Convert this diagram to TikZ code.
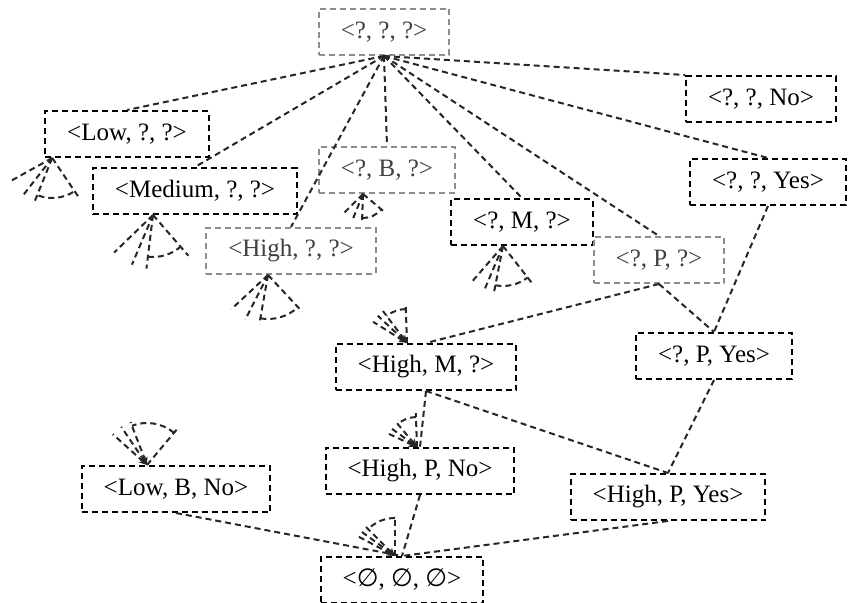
\documentclass[tikz,border=0pt]{standalone}
\usepackage{fontspec}
\setmainfont{Liberation Serif}
\newfontfamily\setsymfont{DejaVu Sans}
\usetikzlibrary{arrows.meta}
\newcommand{\nil}{{\setsymfont ∅}}

\begin{document}
\begin{tikzpicture}[x=0.5pt,y=-0.5pt,font=\fontsize{12.5}{15}\selectfont,
 state/.style={draw=black,dash pattern=on 3pt off 2pt,line width=1pt,minimum height=23pt,inner xsep=11pt,inner ysep=0pt},
 faint/.style={state,draw=black!45,text=black!75},
 edge/.style={black!85,dash pattern=on 3pt off 2pt,line width=1pt},
 intip/.style={{Stealth[length=4pt,width=3.5pt]}-}]
\useasboundingbox (0,0) rectangle (851,603);
\node[faint] (top) at (384,32) {<?, ?, ?>};
\node[state] (no) at (761,99) {<?, ?, No>};
\node[state] (low) at (127,134) {<Low, ?, ?>};
\node[state] (med) at (195,191) {<Medium, ?, ?>};
\node[faint] (bq) at (387,170) {<?, B, ?>};
\node[state] (yes) at (768,182) {<?, ?, Yes>};
\node[state] (mq) at (522,222) {<?, M, ?>};
\node[faint] (high) at (291,251) {<High, ?, ?>};
\node[faint] (pq) at (659,260) {<?, P, ?>};
\node[state] (hm) at (426,367) {<High, M, ?>};
\node[state] (pyes) at (714,356) {<?, P, Yes>};
\node[state] (lbn) at (176,489) {<Low, B, No>};
\node[state] (hpn) at (420,471) {<High, P, No>};
\node[state] (hpy) at (668,497) {<High, P, Yes>};
\node[state] (bot) at (402,580) {<\nil, \nil, \nil>};
% lattice edges
\foreach \n in {low,med,high,bq,mq,pq,yes}
  \draw[edge] (top.south)--(\n.north);
\draw[edge] (top.south)--(no.north west);
\draw[edge] (pq.south)--(hm.north);
\draw[edge] (pq.south)--(pyes.north);
\draw[edge] (yes.south)--(pyes.north);
\draw[edge] (hm.south)--(hpn.north);
\draw[edge] (hm.south)--(hpy.north);
\draw[edge] (pyes.south)--(hpy.north);
\draw[edge] (lbn.south)--(bot.north);
\draw[edge] (hpn.south)--(bot.north);
\draw[edge] (hpy.south)--(bot.north);
% omitted branches
\coordinate (lowfan) at ([xshift=4pt]low.south west);
\coordinate (medfan) at ([xshift=-21pt]med.south);
\coordinate (bfan) at ([xshift=-12pt]bq.south);
\coordinate (highfan) at ([xshift=-11.5pt]high.south);
\coordinate (mfan) at ([xshift=-9.5pt]mq.south);
\coordinate (hmfan) at ([xshift=-9.5pt]hm.north);
\coordinate (hpnfan) at ([xshift=-1.5pt]hpn.north);
\coordinate (botfan) at ([xshift=-3.5pt]bot.north);
\coordinate (lbnfan) at ([xshift=-14.5pt]lbn.north);
\foreach \a in {209,232,248,304} \draw[edge] (lowfan)--++(\a:24pt);
\draw[edge] (lowfan) ++(250:20pt) arc[start angle=250,end angle=302,radius=20pt];
\foreach \a in {224,247,263,311} \draw[edge] (medfan)--++(\a:27pt);
\draw[edge] (medfan) ++(263:21pt) arc[start angle=263,end angle=311,radius=21pt];
\foreach \a in {225,248,268,320} \draw[edge] (bfan)--++(\a:14pt);
\draw[edge] (bfan) ++(268:12pt) arc[start angle=268,end angle=320,radius=12pt];
\foreach \a in {223,243,260,313} \draw[edge] (highfan)--++(\a:25pt);
\draw[edge] (highfan) ++(260:22pt) arc[start angle=260,end angle=313,radius=22pt];
\foreach \a in {229,247,259,308} \draw[edge] (mfan)--++(\a:24pt);
\draw[edge] (mfan) ++(259:20pt) arc[start angle=259,end angle=308,radius=20pt];
\foreach \a in {148,137,127} \draw[edge,intip] (hmfan)--++(\a:20pt);
\draw[edge] (hmfan)--++(92:19pt);
\draw[edge] (hmfan) ++(92:17pt) arc[start angle=92,end angle=127,radius=17pt];
\foreach \a in {155,144,130} \draw[edge,intip] (hpnfan)--++(\a:17pt);
\draw[edge] (hpnfan)--++(92:17pt);
\draw[edge] (hpnfan) ++(92:15pt) arc[start angle=92,end angle=130,radius=15pt];
\foreach \a in {152,144,135} \draw[edge,intip] (botfan)--++(\a:22pt);
\draw[edge] (botfan)--++(90:20pt);
\draw[edge] (botfan) ++(90:19pt) arc[start angle=90,end angle=130,radius=19pt];
\foreach \a in {138,124,111} \draw[edge,intip] (lbnfan)--++(\a:23pt);
\draw[edge] (lbnfan)--++(50:24pt);
\draw[edge] (lbnfan) ++(50:21pt) arc[start angle=50,end angle=111,radius=21pt];
\end{tikzpicture}
\end{document}
